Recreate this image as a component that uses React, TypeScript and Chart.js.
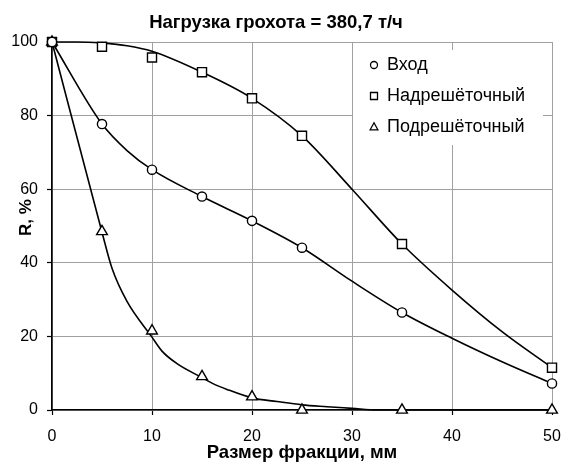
import React, { useEffect, useRef } from 'react';
import { Chart, registerables } from 'chart.js';

Chart.register(...registerables);

const FONT = '"Liberation Sans", Arial, sans-serif';

const titleText = 'Нагрузка грохота = 380,7 т/ч';
const xTitle = 'Размер фракции, мм';
const yTitle = 'R, %';
const seriesNames = ['Вход', 'Надрешёточный', 'Подрешёточный'];
const seriesStyles = ['circle', 'rect', 'triangle'];

const xMin = 0, xMax = 50, xStep = 10;
const yMin = 0, yMax = 100, yStep = 20;

// measured points (markers)
const sizes = [0, 5, 10, 15, 20, 25, 35, 50];
const inputValues = [100, 77.7, 65.3, 58.0, 51.4, 44.1, 26.5, 7.2];
const overValues = [100, 98.7, 95.8, 91.8, 84.7, 74.5, 45.1, 11.5];
const underValues = [100, 48.5, 21.5, 9.1, 3.6, 0, 0, 0];

// smooth curves
const inputCurveX = [0, 5, 7.5, 10, 15, 20, 25, 30, 35, 40, 45, 50];
const inputCurveY = [100, 77.7, 70.5, 65.3, 58.0, 51.4, 44.1, 35.0, 26.5, 19.5, 13.1, 7.2];
const overCurveX = [0, 2.5, 5, 7.5, 10, 15, 20, 25, 30, 35, 40, 45, 50];
const overCurveY = [100, 100, 99.7, 99.0, 97.5, 91.8, 84.7, 74.5, 60, 45.1, 32.6, 21.3, 11.5];
const underCurveX = [0, 5, 6, 7.5, 10, 11, 12.5, 15, 16, 17.5, 20, 22.5, 25, 27.5, 30, 32.5, 35, 50];
const underCurveY = [100, 48.3, 38.5, 29.5, 19.8, 16, 12.6, 8.8, 7.3, 5.6, 3.3, 2.3, 1.4, 0.9, 0.45, 0, 0, 0];

const pts = (xs: number[], ys: number[]) => xs.map((x, i) => ({ x, y: ys[i] }));

const drawMarker = (ctx: CanvasRenderingContext2D, style: string, x: number, y: number, s: number) => {
  ctx.beginPath();
  if (style === 'circle') {
    ctx.arc(x, y, s * 0.5, 0, Math.PI * 2);
  } else if (style === 'rect') {
    ctx.rect(x - s / 2, y - s / 2, s, s);
  } else {
    ctx.moveTo(x, y - s * 0.6);
    ctx.lineTo(x + s * 0.55, y + s * 0.4);
    ctx.lineTo(x - s * 0.55, y + s * 0.4);
    ctx.closePath();
  }
  ctx.fillStyle = '#fff';
  ctx.fill();
  ctx.lineWidth = 1.3;
  ctx.strokeStyle = '#000';
  ctx.stroke();
};

const legendPlugin = {
  id: 'boxLegend',
  beforeDatasetsDraw(chart: any) {
    const { ctx, chartArea } = chart;
    const left = chartArea.left + 301;
    const top = chartArea.top + 8;
    ctx.save();
    ctx.fillStyle = '#fff';
    ctx.fillRect(left, top, 190, 95);
    ctx.font = `18px ${FONT}`;
    ctx.textBaseline = 'middle';
    ctx.textAlign = 'left';
    seriesNames.forEach((name, i) => {
      const cy = top + 15 + i * 31;
      drawMarker(ctx, seriesStyles[i], left + 21, cy, 7);
      ctx.fillStyle = '#000';
      ctx.fillText(name, left + 34, cy);
    });
    ctx.restore();
  },
};

const yTitlePlugin = {
  id: 'yTitle',
  afterDraw(chart: any) {
    const { ctx, chartArea } = chart;
    ctx.save();
    ctx.translate(chartArea.left - 26, chartArea.top + 175.5);
    ctx.rotate(-Math.PI / 2);
    ctx.font = `bold 17px ${FONT}`;
    ctx.fillStyle = '#000';
    ctx.textAlign = 'center';
    ctx.textBaseline = 'middle';
    ctx.fillText(yTitle, 0, 0);
    ctx.restore();
  },
};

const markerSet = (label: string, ys: number[], style: string, radius: number) => ({
  label,
  data: pts(sizes, ys),
  showLine: false,
  pointStyle: style,
  pointRadius: radius,
  pointHoverRadius: radius,
  pointBackgroundColor: '#fff',
  pointBorderColor: '#000',
  pointBorderWidth: 1.4,
  clip: false as const,
  order: 0,
});

const curveSet = (label: string, xs: number[], ys: number[]) => ({
  label,
  data: pts(xs, ys),
  showLine: true,
  borderColor: '#000',
  borderWidth: 1.6,
  pointRadius: 0,
  pointHoverRadius: 0,
  cubicInterpolationMode: 'monotone' as const,
  clip: false as const,
  order: 1,
});

export default function App() {
  const ref = useRef<HTMLCanvasElement | null>(null);
  useEffect(() => {
    if (!ref.current) return;
    const chart = new Chart(ref.current, {
      type: 'scatter',
      data: {
        datasets: [
          markerSet(seriesNames[0], inputValues, 'circle', 4.6),
          markerSet(seriesNames[1], overValues, 'rect', 6.4),
          markerSet(seriesNames[2], underValues, 'triangle', 6.2),
          curveSet(seriesNames[0] + ' (кривая)', inputCurveX, inputCurveY),
          curveSet(seriesNames[1] + ' (кривая)', overCurveX, overCurveY),
          curveSet(seriesNames[2] + ' (кривая)', underCurveX, underCurveY),
        ] as any,
      },
      options: {
        animation: false,
        responsive: true,
        maintainAspectRatio: false,
        layout: { padding: { left: 0, right: 14, top: 0, bottom: 0 } },
        plugins: {
          legend: { display: false },
          tooltip: { enabled: false },
          title: {
            display: true,
            text: titleText,
            color: '#000',
            font: { family: FONT, size: 18.5, weight: 'bold' },
            padding: { top: 11.5, bottom: 8.3 },
          },
        },
        scales: {
          x: {
            type: 'linear',
            min: xMin,
            max: xMax,
            afterFit: (s: any) => { s.height = 55; s.paddingRight = 0; s.paddingLeft = 0; },
            ticks: {
              stepSize: xStep,
              color: '#000',
              font: { family: FONT, size: 16 },
              padding: 12,
              maxRotation: 0,
            },
            grid: {
              color: '#a0a0a0',
              lineWidth: 1,
              tickColor: '#000',
              tickLength: 5,
              tickWidth: 1.2,
            },
            border: { display: true, color: '#000', width: 1.6 },
            title: {
              display: true,
              text: xTitle,
              color: '#000',
              font: { family: FONT, size: 18.5, weight: 'bold' },
              padding: { top: 0, bottom: 0.8 },
            },
          },
          y: {
            type: 'linear',
            min: yMin,
            max: yMax,
            afterFit: (s: any) => { s.width = 52; },
            ticks: {
              stepSize: yStep,
              color: '#000',
              font: { family: FONT, size: 16 },
              padding: 9,
            },
            grid: {
              color: '#a0a0a0',
              lineWidth: 1,
              tickColor: '#000',
              tickLength: 5,
              tickWidth: 1.2,
            },
            border: { display: true, color: '#000', width: 1.6 },
            title: { display: false, text: yTitle },
          },
        },
      },
      plugins: [legendPlugin, yTitlePlugin],
    });
    return () => chart.destroy();
  }, []);

  return (
    <div style={{ position: 'absolute', left: 0, top: 0, width: 566, height: 465, background: '#fff' }}>
      <canvas ref={ref} />
    </div>
  );
}
